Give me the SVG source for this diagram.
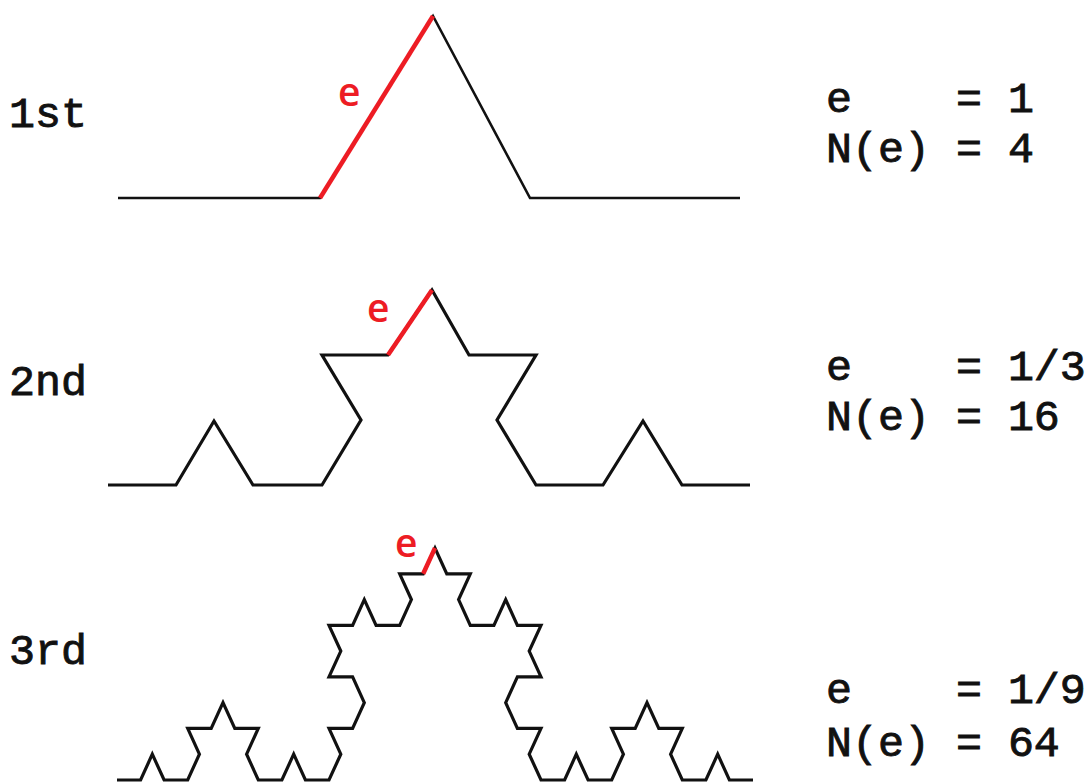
<svg xmlns="http://www.w3.org/2000/svg" width="1088" height="784" viewBox="0 0 1088 784">
<style>
.curve{fill:none;stroke:#111;stroke-linejoin:miter;stroke-linecap:butt}
.seg{fill:none;stroke:#ed1c24;stroke-linecap:butt}
.lbl{font-family:"Liberation Mono","DejaVu Sans Mono",monospace;font-size:43.3px;fill:#111;stroke:#111;stroke-width:0.9;white-space:pre}
.red{font-family:"Open Sans","Noto Sans",sans-serif;font-size:39px;font-weight:600;fill:#ed1c24}
</style>
<rect width="1088" height="784" fill="#fff"/>
<g id="iter1">
<text class="lbl" x="9" y="127">1st</text>
<polyline class="curve" stroke-width="2.6" points="118,198 320,198 433,16 530,198 740,198"/>
<line class="seg" stroke-width="4.5" x1="320" y1="198" x2="433" y2="16"/>
<text class="red" x="338" y="106">e</text>
<text class="lbl" x="826" y="112">e    = 1</text>
<text class="lbl" x="826" y="162">N(e) = 4</text>
</g>
<g id="iter2">
<text class="lbl" x="9" y="395">2nd</text>
<polyline class="curve" stroke-width="3.2" points="108,485 176,485 214,421 253,485 322,485 361,420 322,355 388,355 432,290 469,355 536,355 497,420 536,485 603,485 643,421 682,485 750,485"/>
<line class="seg" stroke-width="4.5" x1="388" y1="355" x2="432" y2="290"/>
<text class="red" x="367" y="322">e</text>
<text class="lbl" x="826" y="380">e    = 1/3</text>
<text class="lbl" x="826" y="430">N(e) = 16</text>
</g>
<g id="iter3">
<text class="lbl" x="9" y="664">3rd</text>
<polyline class="curve" stroke-width="3.2" points="117,780 140.6,780 152.3,754.2 164.1,780 187.7,780 199.4,754.2 187.7,728.4 211.2,728.4 223,702.7 234.8,728.4 258.3,728.4 246.6,754.2 258.3,780 281.9,780 293.7,754.2 305.4,780 329,780 340.8,754.2 329,728.4 352.6,728.4 364.3,702.7 352.6,676.9 329,676.9 340.8,651.1 329,625.3 352.6,625.3 364.3,599.6 376.1,625.3 399.7,625.3 411.4,599.6 399.7,573.8 423.2,573.8 435,548 446.8,573.8 470.3,573.8 458.6,599.6 470.3,625.3 493.9,625.3 505.7,599.6 517.4,625.3 541,625.3 529.2,651.1 541,676.9 517.4,676.9 505.7,702.7 517.4,728.4 541,728.4 529.2,754.2 541,780 564.6,780 576.3,754.2 588.1,780 611.7,780 623.4,754.2 611.7,728.4 635.2,728.4 647,702.7 658.8,728.4 682.3,728.4 670.6,754.2 682.3,780 705.9,780 717.7,754.2 729.4,780 753,780"/>
<line class="seg" stroke-width="4.5" x1="423.2" y1="573.8" x2="435" y2="548"/>
<text class="red" x="395" y="557">e</text>
<text class="lbl" x="826" y="703">e    = 1/9</text>
<text class="lbl" x="826" y="756">N(e) = 64</text>
</g>
</svg>
